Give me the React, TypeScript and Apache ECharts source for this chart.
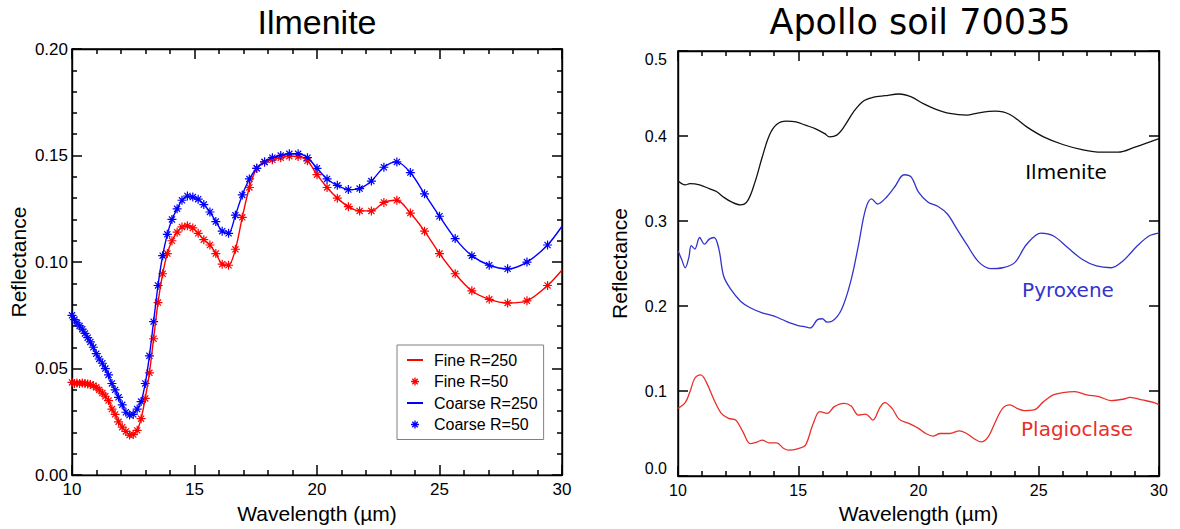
import React, { useEffect, useRef } from 'react';
import * as echarts from 'echarts';

// ---------- Left panel: Ilmenite (wavelength in µm, reflectance) ----------
const wavelength = [
  10.00, 10.10, 10.20, 10.31, 10.42, 10.53, 10.64, 10.75, 10.87, 10.99,
  11.11, 11.24, 11.36, 11.49, 11.63, 11.76, 11.90, 12.05, 12.20, 12.35,
  12.50, 12.66, 12.82, 12.99, 13.16, 13.33, 13.51, 13.70, 13.89, 14.08,
  14.29, 14.49, 14.71, 14.93, 15.15, 15.38, 15.63, 15.87, 16.13, 16.39,
  16.67, 16.95, 17.24, 17.54, 17.86, 18.18, 18.52, 18.87, 19.23, 19.61,
  20.00, 20.41, 20.83, 21.28, 21.74, 22.22, 22.73, 23.26, 23.81, 24.39,
  25.00, 25.64, 26.32, 27.03, 27.78, 28.57, 29.41, 30.00,
];
const fineReflectance = [
  0.0435, 0.0430, 0.0432, 0.0430, 0.0432, 0.0430, 0.0428, 0.0425, 0.0420, 0.0412,
  0.0400, 0.0385, 0.0370, 0.0350, 0.0310, 0.0285, 0.0250, 0.0225, 0.0205, 0.0188,
  0.0190, 0.0210, 0.0265, 0.0360, 0.0480, 0.0640, 0.0810, 0.0945, 0.1040, 0.1100,
  0.1140, 0.1165, 0.1170, 0.1160, 0.1135, 0.1105, 0.1080, 0.1040, 0.0990, 0.0985,
  0.1060, 0.1210, 0.1350, 0.1440, 0.1470, 0.1480, 0.1490, 0.1497, 0.1495, 0.1475,
  0.1410, 0.1350, 0.1300, 0.1260, 0.1240, 0.1240, 0.1280, 0.1290, 0.1230, 0.1145,
  0.1040, 0.0945, 0.0865, 0.0825, 0.0808, 0.0818, 0.0890, 0.0963,
];
const coarseReflectance = [
  0.0750, 0.0730, 0.0715, 0.0700, 0.0685, 0.0665, 0.0645, 0.0625, 0.0600, 0.0570,
  0.0545, 0.0525, 0.0500, 0.0470, 0.0430, 0.0400, 0.0365, 0.0330, 0.0295, 0.0282,
  0.0285, 0.0310, 0.0345, 0.0430, 0.0560, 0.0720, 0.0890, 0.1030, 0.1130, 0.1200,
  0.1250, 0.1290, 0.1310, 0.1305, 0.1295, 0.1270, 0.1235, 0.1190, 0.1145, 0.1135,
  0.1220, 0.1315, 0.1390, 0.1440, 0.1470, 0.1490, 0.1500, 0.1508, 0.1508, 0.1490,
  0.1440, 0.1390, 0.1360, 0.1340, 0.1345, 0.1380, 0.1445, 0.1470, 0.1420, 0.1320,
  0.1215, 0.1110, 0.1030, 0.0985, 0.0968, 0.1000, 0.1080, 0.1168,
];

// ---------- Right panel: Apollo soil 70035 ----------
const ilmeniteWavelength = [
  10.0, 10.3, 10.5, 10.9, 11.3, 11.6, 11.9, 12.2, 12.6, 12.9,
  13.2, 13.5, 13.8, 14.1, 14.5, 14.9, 15.3, 15.7, 16.1, 16.3,
  16.6, 16.9, 17.3, 17.7, 18.1, 18.6, 19.2, 19.7, 20.2, 20.7,
  21.3, 22.0, 22.5, 23.2, 23.8, 24.5, 25.2, 26.0, 26.8, 27.6,
  28.3, 29.0, 30.0,
];
const ilmeniteReflectance = [
  0.347, 0.3425, 0.344, 0.3425, 0.338, 0.3347, 0.328, 0.3228, 0.319, 0.324,
  0.3457, 0.375, 0.401, 0.4135, 0.4174, 0.4166, 0.4127, 0.4087, 0.4028, 0.399,
  0.401, 0.4107, 0.4285, 0.441, 0.4454, 0.4474, 0.4494, 0.446, 0.438, 0.4316,
  0.4265, 0.4245, 0.4273, 0.4292, 0.4253, 0.4107, 0.399, 0.390, 0.384, 0.381,
  0.381, 0.387, 0.397,
];
const pyroxeneWavelength = [
  10.0, 10.15, 10.3, 10.45, 10.55, 10.7, 10.9, 11.1, 11.3, 11.5,
  11.7, 11.9, 12.2, 12.6, 13.0, 13.5, 14.0, 14.5, 15.0, 15.3,
  15.5, 15.8, 16.0, 16.2, 16.4, 16.8, 17.2, 17.5, 17.8, 18.05,
  18.3, 18.6, 19.0, 19.4, 19.7, 20.0, 20.4, 20.8, 21.2, 21.6,
  22.0, 22.5, 23.0, 23.5, 24.0, 24.5, 25.1, 25.6, 26.2, 26.8,
  27.4, 28.0, 28.5, 29.1, 29.6, 30.0,
];
const pyroxeneReflectance = [
  0.265, 0.255, 0.245, 0.257, 0.271, 0.267, 0.2806, 0.2728, 0.2787, 0.2806,
  0.267, 0.235, 0.2195, 0.2057, 0.1979, 0.192, 0.188, 0.182, 0.177, 0.1754,
  0.1742, 0.184, 0.185, 0.181, 0.182, 0.196, 0.231, 0.271, 0.314, 0.326,
  0.320, 0.326, 0.3397, 0.3544, 0.3516, 0.3339, 0.322, 0.3173, 0.3082, 0.2905,
  0.2727, 0.2519, 0.244, 0.245, 0.251, 0.2727, 0.2858, 0.2826, 0.2688, 0.255,
  0.2471, 0.245, 0.253, 0.2708, 0.2826, 0.2858,
];
const plagioclaseWavelength = [
  10.0, 10.3, 10.5, 10.7, 10.95, 11.2, 11.5, 11.8, 12.1, 12.4,
  12.7, 13.0, 13.3, 13.5, 13.8, 14.1, 14.4, 14.6, 15.0, 15.3,
  15.6, 15.9, 16.2, 16.5, 16.9, 17.2, 17.5, 17.8, 18.1, 18.4,
  18.6, 18.9, 19.2, 19.6, 20.0, 20.3, 20.6, 20.9, 21.3, 21.7,
  22.0, 22.3, 22.6, 22.9, 23.2, 23.5, 23.8, 24.1, 24.4, 24.8,
  25.2, 25.6, 26.0, 26.5, 27.0, 27.5, 28.0, 28.5, 28.8, 29.3,
  29.8, 30.0,
];
const plagioclaseReflectance = [
  0.0796, 0.0863, 0.0993, 0.115, 0.119, 0.109, 0.0895, 0.0737, 0.0678, 0.0658,
  0.052, 0.0382, 0.0402, 0.0422, 0.039, 0.039, 0.0323, 0.0304, 0.0323, 0.0363,
  0.0599, 0.0757, 0.0737, 0.0816, 0.0855, 0.0824, 0.0717, 0.0729, 0.0658, 0.0808,
  0.0863, 0.0796, 0.0666, 0.0619, 0.056, 0.050, 0.0469, 0.050, 0.050, 0.0532,
  0.050, 0.0441, 0.0402, 0.0461, 0.0639, 0.0796, 0.0836, 0.0796, 0.0769, 0.0777,
  0.0875, 0.0954, 0.0981, 0.0993, 0.0954, 0.0934, 0.0887, 0.0903, 0.0926, 0.0895,
  0.0863, 0.0836,
];

const legendNames = ['Fine R=250', 'Fine R=50', 'Coarse R=250', 'Coarse R=50'];
const panelTitles = ['Ilmenite', 'Apollo soil 70035'];
const curveLabels = ['Ilmenite', 'Pyroxene', 'Plagioclase'];
const xAxisTitle = 'Wavelength (µm)';
const yAxisTitle = 'Reflectance';

const FONT_L = 'Liberation Sans';
const FONT_R = 'DejaVu Sans';

const RED = '#ff0000';
const BLUE = '#0000ff';
const STAR = 'path://M5,0L5,10M0,5L10,5M1.6,1.6L8.4,8.4M1.6,8.4L8.4,1.6';
// short horizontal dash, padded vertically by move-to points so it stays thin
const DASH = 'path://M0,0M0,8M0,3L16,3L16,5L0,5Z';

function pairs(xs: number[], ys: number[]) {
  return xs.map((x, i) => [x, ys[i]]);
}

function makeX(gridIndex: number, position: 'top' | 'bottom', showLabel: boolean, size: number) {
  const axis: any = {
    type: 'value',
    gridIndex,
    position,
    min: 10,
    max: 30,
    interval: 5,
    axisLine: { show: true, onZero: false, lineStyle: { color: '#000', width: 1.4 } },
    axisTick: { show: true, inside: true, length: 10, lineStyle: { color: '#000', width: 1.5 } },
    minorTick: { show: true, splitNumber: 5, length: 5, lineStyle: { color: '#000', width: 1.5 } },
    splitLine: { show: false },
    axisLabel: { show: showLabel, color: '#000', fontSize: size, margin: 6 },
  };
  if (showLabel) {
    axis.name = xAxisTitle;
    axis.nameLocation = 'middle';
    axis.nameGap = 26;
    axis.nameTextStyle = { color: '#000', fontSize: 21 };
  }
  return axis;
}

function makeY(
  gridIndex: number,
  position: 'left' | 'right',
  max: number,
  interval: number,
  minor: boolean,
  digits: number,
  showLabel: boolean,
  size: number,
  margin: number,
  nameGap: number,
  edgeAlign: boolean,
) {
  const label: any = {
    show: showLabel,
    color: '#000',
    fontSize: size,
    margin,
    formatter: (v: number) => v.toFixed(digits),
  };
  if (edgeAlign) {
    label.verticalAlignMinLabel = 'bottom';
    label.verticalAlignMaxLabel = 'top';
  }
  const axis: any = {
    type: 'value',
    gridIndex,
    position,
    min: 0,
    max,
    interval,
    axisLine: { show: true, onZero: false, lineStyle: { color: '#000', width: 1.4 } },
    axisTick: { show: true, inside: true, length: 10, lineStyle: { color: '#000', width: 1.5 } },
    splitLine: { show: false },
    axisLabel: label,
  };
  if (minor) axis.minorTick = { show: true, splitNumber: 5, length: 5, lineStyle: { color: '#000', width: 1.5 } };
  if (showLabel) {
    axis.name = yAxisTitle;
    axis.nameLocation = 'middle';
    axis.nameGap = nameGap;
    axis.nameTextStyle = { color: '#000', fontSize: 21 };
  }
  return axis;
}

function buildOption() {
  const fineLine = pairs(wavelength, fineReflectance);
  const coarseLine = pairs(wavelength, coarseReflectance);
  const fineStars = fineLine.filter((p) => p[0] < 30);
  const coarseStars = coarseLine.filter((p) => p[0] < 30);
  const mkTitle = (text: string, x: number, y: number, font: string, size: number, color: string) => ({
    text, left: x, top: y, textAlign: 'center', padding: 0,
    textStyle: { fontFamily: font, fontSize: size, fontWeight: 'normal', color, lineHeight: size },
  });

  return {
    animation: false,
    textStyle: { fontFamily: FONT_L },
    title: [
      mkTitle(panelTitles[0], 317, 5, FONT_L, 34, '#000'),
      mkTitle(panelTitles[1], 920, 4, FONT_R, 35, '#000'),
      mkTitle(curveLabels[0], 1066, 162, FONT_R, 20, '#000'),
      mkTitle(curveLabels[1], 1068, 280, FONT_R, 20, '#3333cc'),
      mkTitle(curveLabels[2], 1077, 419, FONT_R, 20, '#e8302a'),
    ],
    grid: [
      { left: 72, top: 49, width: 490, height: 427, show: true, borderColor: '#000', borderWidth: 1.4, backgroundColor: 'transparent' },
      { left: 678, top: 51, width: 481, height: 425, show: true, borderColor: '#000', borderWidth: 1.4, backgroundColor: 'transparent' },
    ],
    xAxis: [
      makeX(0, 'bottom', true, 17),
      makeX(0, 'top', false, 17),
      makeX(1, 'bottom', true, 16),
      makeX(1, 'top', false, 16),
    ],
    yAxis: [
      makeY(0, 'left', 0.2, 0.05, true, 2, true, 17, 4, 43, false),
      makeY(0, 'right', 0.2, 0.05, true, 2, false, 17, 4, 43, false),
      makeY(1, 'left', 0.5, 0.1, false, 1, true, 16, 11, 48, true),
      makeY(1, 'right', 0.5, 0.1, false, 1, false, 16, 11, 48, true),
    ],
    legend: {
      orient: 'vertical',
      left: 397,
      top: 345,
      padding: [6, 6, 6, 10],
      itemWidth: 16,
      itemHeight: 8,
      itemGap: 3.5,
      borderColor: '#808080',
      borderWidth: 1,
      backgroundColor: '#ffffff',
      selectedMode: false,
      textStyle: { fontSize: 16, color: '#000', lineHeight: 18, padding: [0, 0, 0, 6] },
      data: [
        { name: legendNames[0], icon: DASH, itemStyle: { color: RED, borderWidth: 0 } },
        { name: legendNames[1], itemStyle: { color: RED, borderColor: RED, borderWidth: 1.3 } },
        { name: legendNames[2], icon: DASH, itemStyle: { color: BLUE, borderWidth: 0 } },
        { name: legendNames[3], itemStyle: { color: BLUE, borderColor: BLUE, borderWidth: 1.3 } },
      ],
    },
    series: [
      {
        name: legendNames[0], type: 'line', xAxisIndex: 0, yAxisIndex: 0,
        data: fineLine, symbol: 'none', smooth: 0.3,
        lineStyle: { color: RED, width: 1.4 }, itemStyle: { color: RED },
      },
      {
        name: legendNames[1], type: 'scatter', xAxisIndex: 0, yAxisIndex: 0,
        data: fineStars, symbol: STAR, symbolSize: 9,
        itemStyle: { color: RED, borderColor: RED, borderWidth: 1.2, opacity: 1 },
      },
      {
        name: legendNames[2], type: 'line', xAxisIndex: 0, yAxisIndex: 0,
        data: coarseLine, symbol: 'none', smooth: 0.3,
        lineStyle: { color: BLUE, width: 1.4 }, itemStyle: { color: BLUE },
      },
      {
        name: legendNames[3], type: 'scatter', xAxisIndex: 0, yAxisIndex: 0,
        data: coarseStars, symbol: STAR, symbolSize: 9,
        itemStyle: { color: BLUE, borderColor: BLUE, borderWidth: 1.2, opacity: 1 },
      },
      {
        name: 'Ilmenite (soil)', type: 'line', xAxisIndex: 2, yAxisIndex: 2,
        data: pairs(ilmeniteWavelength, ilmeniteReflectance), symbol: 'none', smooth: 0.35,
        lineStyle: { color: '#111111', width: 1.3 },
      },
      {
        name: 'Pyroxene', type: 'line', xAxisIndex: 2, yAxisIndex: 2,
        data: pairs(pyroxeneWavelength, pyroxeneReflectance), symbol: 'none', smooth: 0.35,
        lineStyle: { color: '#3333cc', width: 1.3 },
      },
      {
        name: 'Plagioclase', type: 'line', xAxisIndex: 2, yAxisIndex: 2,
        data: pairs(plagioclaseWavelength, plagioclaseReflectance), symbol: 'none', smooth: 0.35,
        lineStyle: { color: '#e8302a', width: 1.3 },
      },
    ],
  };
}

export default function App() {
  const ref = useRef<HTMLDivElement>(null);
  useEffect(() => {
    if (!ref.current) return;
    const chart = echarts.init(ref.current, null, { renderer: 'svg' });
    chart.setOption(buildOption() as any);
    return () => chart.dispose();
  }, []);
  return (
    <div
      ref={ref}
      style={{ position: 'fixed', left: 0, top: 0, width: 1180, height: 529, background: '#ffffff' }}
    />
  );
}
